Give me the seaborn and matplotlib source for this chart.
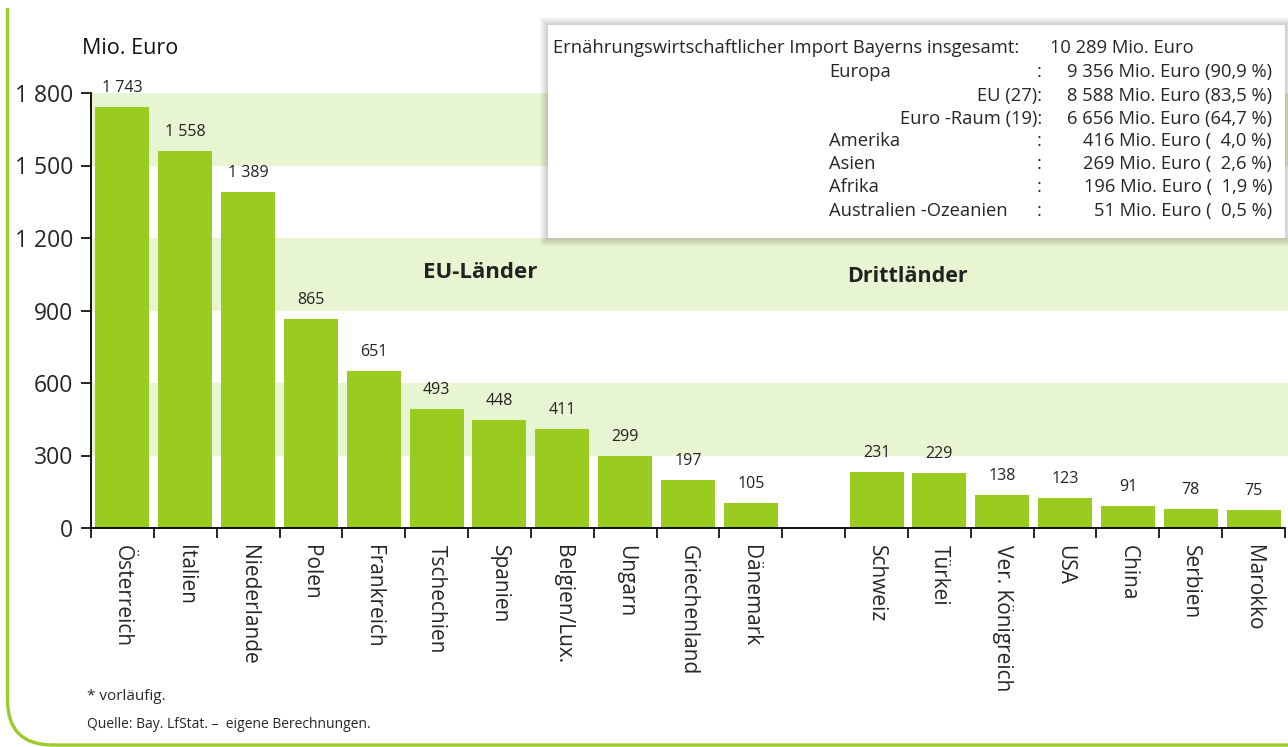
import numpy as np
import pandas as pd
import matplotlib
matplotlib.use("Agg")
import matplotlib.pyplot as plt
import seaborn as sns
from matplotlib.patches import FancyBboxPatch, Rectangle
from matplotlib.transforms import Bbox

# ---- data ----
eu_countries = ["Österreich", "Italien", "Niederlande", "Polen", "Frankreich", "Tschechien",
                "Spanien", "Belgien/Lux.", "Ungarn", "Griechenland", "Dänemark"]
eu_values = [1743, 1558, 1389, 865, 651, 493, 448, 411, 299, 197, 105]
third_countries = ["Schweiz", "Türkei", "Ver. Königreich", "USA", "China", "Serbien", "Marokko"]
third_values = [231, 229, 138, 123, 91, 78, 75]
gap_label = " "
y_ticks = [0, 300, 600, 900, 1200, 1500, 1800]
bands = [(300, 600), (900, 1200), (1500, 1800)]

box_title = "Ernährungswirtschaftlicher Import Bayerns insgesamt:"
box_total = "10 289 Mio. Euro"
box_left = ["Europa", "", "", "Amerika", "Asien", "Afrika", "Australien -Ozeanien"]
box_right_lbl = [":", "EU (27):", "Euro -Raum (19):", ":", ":", ":", ":"]
box_values = ["9 356 Mio. Euro (90,9 %)", "8 588 Mio. Euro (83,5 %)", "6 656 Mio. Euro (64,7 %)",
              "416 Mio. Euro (  4,0 %)", "269 Mio. Euro (  2,6 %)", "196 Mio. Euro (  1,9 %)",
              "51 Mio. Euro (  0,5 %)"]

categories = eu_countries + [gap_label] + third_countries
values = eu_values + [np.nan] + third_values
df = pd.DataFrame({"land": categories, "wert": values})

BAR = "#99cc1f"
BAND = "#e8f5d2"
FRAME = "#9acd2a"

sns.set_theme(style="white")
plt.rcParams["font.family"] = ["Open Sans", "DejaVu Sans"]

W, H = 1288, 747
fig = plt.figure(figsize=(W / 100, H / 100), dpi=100)
ax = fig.add_axes([91 / W, 1 - 528 / H, (1285 - 91) / W, (528 - 93) / H])

for lo, hi in bands:
    ax.axhspan(lo, hi, xmin=0, xmax=1.01, color=BAND, zorder=0, lw=0, clip_on=False)

sns.barplot(data=df, x="land", y="wert", order=categories, color=BAR, saturation=1,
            width=0.86, ax=ax, zorder=2, edgecolor="none")

ax.set_xlim(-0.5, len(categories) - 0.5)
ax.set_ylim(0, 1800)

for i, v in enumerate(values):
    if np.isnan(v):
        continue
    ax.annotate(f"{int(v):,}".replace(",", " "), (i, v), xytext=(0, 8), textcoords="offset points",
                ha="center", va="bottom", fontsize=11.5, color="#222222", clip_on=False)

ax.set_yticks(y_ticks)
ax.set_yticklabels([f"{t:,}".replace(",", " ") for t in y_ticks], fontsize=16.5)
ax.set_xticks(np.arange(-0.5, len(categories)), labels=[])
ax.set_xticks(np.arange(len(categories)), minor=True)
ax.set_xticklabels(categories, minor=True, rotation=-90, fontsize=15, va="top", ha="center")
ax.tick_params(axis="x", which="major", direction="out", length=7, width=1.2, color="black", bottom=True)
ax.tick_params(axis="x", which="minor", length=0, pad=12, bottom=True)
ax.tick_params(axis="y", direction="out", length=7, width=1.2, color="black", left=True, pad=6)
ax.set_xlabel("")
ax.set_ylabel("")
for s in ["top", "right"]:
    ax.spines[s].set_visible(False)
for s in ["left", "bottom"]:
    ax.spines[s].set_color("black")
    ax.spines[s].set_linewidth(1.3)

# group labels
fig.text(480 / W, 1 - 272 / H, "EU-Länder", ha="center", va="center", fontsize=16,
         fontweight="bold", color="#222222")
fig.text(907 / W, 1 - 277 / H, "Drittländer", ha="center", va="center", fontsize=15.5,
         fontweight="bold", color="#222222")

fig.text(82 / W, 1 - 48 / H, "Mio. Euro", ha="left", va="center", fontsize=15.5, color="#111111")

# info box with soft shadow
for k in range(8):
    off = 8 - k
    fig.patches.append(Rectangle(((548 - off) / W, 1 - (238 + off) / H), (737 + 2 * off) / W,
                                 (213 + 2 * off) / H, transform=fig.transFigure,
                                 facecolor="black", alpha=0.025, lw=0, zorder=5))
fig.patches.append(Rectangle((548 / W, 1 - 238 / H), 737 / W, 213 / H, transform=fig.transFigure,
                             facecolor="white", lw=0, zorder=6))
fs_box = 13.2
fig.text(553 / W, 1 - 48 / H, box_title, ha="left", va="center", fontsize=fs_box, zorder=7)
fig.text(1050 / W, 1 - 48 / H, box_total, ha="left", va="center", fontsize=fs_box, zorder=7)
rows_y = [72, 96, 119, 141, 164, 187, 211]
for y, l, r, v in zip(rows_y, box_left, box_right_lbl, box_values):
    if l:
        fig.text(829 / W, 1 - y / H, l, ha="left", va="center", fontsize=fs_box, zorder=7)
    fig.text(1042 / W, 1 - y / H, r, ha="right", va="center", fontsize=fs_box, zorder=7)
    fig.text(1272 / W, 1 - y / H, v, ha="right", va="center", fontsize=fs_box, zorder=7)

# footnotes
fig.text(87 / W, 1 - 697 / H, "* vorläufig.", ha="left", va="center", fontsize=11)
fig.text(87 / W, 1 - 725 / H, "Quelle: Bay. LfStat. –  eigene Berechnungen.", ha="left",
         va="center", fontsize=10)

# left/bottom rounded frame (top clipped)
frame = FancyBboxPatch((0.075, 0.02), 20, 20, boxstyle="round,pad=0,rounding_size=0.45",
                       transform=fig.dpi_scale_trans, fill=False, edgecolor=FRAME, lw=2.4)
fig.patches.append(frame)
frame.set_clip_on(True)
frame.set_clip_box(Bbox.from_extents(0, 0, W, H - 8))

fig.savefig("out.png", dpi=100)
